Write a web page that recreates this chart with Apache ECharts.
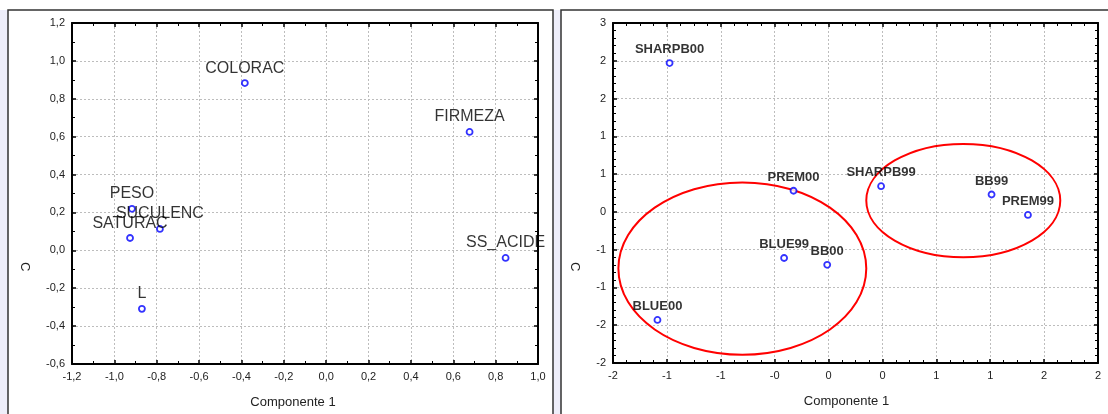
<!DOCTYPE html>
<html>
<head>
<meta charset="utf-8">
<script src="https://cdn.jsdelivr.net/npm/echarts@6/dist/echarts.min.js"></script>
<style>
    html, body { margin: 0; padding: 0; background: #fff; }
    #chart { width: 1108px; height: 414px; }
</style>
</head>
<body>
<div id="chart"></div>
<script>
// ======================
// DATA
// ======================

// 좌측: 변수 (Componente 1 / 2 loadings)
const leftNames = ['COLORAC', 'FIRMEZA', 'PESO', 'SUCULENC', 'SATURAC', 'L', 'SS_ACIDE'];
const leftX = [-0.384, 0.677, -0.917, -0.785, -0.926, -0.870, 0.847];
const leftY = [0.883, 0.625, 0.219, 0.113, 0.065, -0.309, -0.040];

// 우측: 샘플 scores
const rightNames = ['SHARPB00', 'PREM00', 'BLUE99', 'BB00', 'BLUE00', 'SHARPB99', 'BB99', 'PREM99'];
const rightX = [-1.18, -0.26, -0.33, -0.01, -1.27, 0.39, 1.21, 1.48];
const rightY = [1.97, 0.28, -0.61, -0.70, -1.43, 0.34, 0.23, -0.04];

// 그룹 타원 (center x, center y, radius x, radius y)
const ellipseCx = [-0.64, 1.00];
const ellipseCy = [-0.75, 0.15];
const ellipseRx = [0.92, 0.72];
const ellipseRy = [1.14, 0.75];

// 축 범위 [min, max, interval]
const leftXRange = [-1.2, 1.0, 0.2];
const leftYRange = [-0.6, 1.2, 0.2];
const rightXRange = [-1.6, 2.0, 0.4];
const rightYRange = [-2, 2.5, 0.5];

const xTitle = 'Componente 1';
const yTitle = 'C';

// ======================
// HELPERS
// ======================

const FONT = 'Liberation Sans, Arial, sans-serif';

const commaFmt = v => v.toFixed(1).replace('.', ',');
const roundFmt = v => (v < 0 ? '-' : '') + Math.round(Math.abs(v));

function makeAxis(range, gridIndex, position, showLabel, fmt, split) {
    return {
        type: 'value',
        gridIndex: gridIndex,
        position: position,
        min: range[0],
        max: range[1],
        interval: range[2],
        axisLine: { show: true, onZero: false, lineStyle: { color: '#000', width: 2 } },
        axisTick: { show: true, inside: true, length: 4, lineStyle: { color: '#000', width: 1.5 } },
        minorTick: { show: true, splitNumber: split, length: 3, lineStyle: { color: '#000', width: 1 } },
        axisLabel: {
            show: showLabel,
            formatter: fmt,
            color: '#222',
            fontSize: 11,
            fontFamily: FONT,
            margin: 7
        },
        splitLine: {
            show: showLabel,
            lineStyle: { color: '#bdbdbd', type: [2, 2], width: 1 }
        }
    };
}

function pointSeries(names, xs, ys, idx, labelStyle) {
    return {
        type: 'scatter',
        xAxisIndex: idx,
        yAxisIndex: idx,
        symbol: 'circle',
        symbolSize: 6,
        itemStyle: { color: '#fff', borderColor: '#0000ff', borderWidth: 1.8 },
        label: Object.assign({
            show: true,
            position: 'top',
            distance: 3,
            formatter: p => names[p.dataIndex],
            color: '#000',
            fontFamily: FONT
        }, labelStyle),
        data: xs.map((x, i) => [x, ys[i]])
    };
}

// ======================
// CHART
// ======================

const chart = echarts.init(document.getElementById('chart'), null, { renderer: 'canvas' });

const option = {
    animation: false,
    backgroundColor: '#fff',
    graphic: [
        { type: 'rect', z: -10, shape: { x: 0, y: 10, width: 1108, height: 404 }, style: { fill: '#eeeefa' } },
        { type: 'rect', z: -9, shape: { x: 8, y: 10, width: 545, height: 420 }, style: { fill: '#fff', stroke: '#333', lineWidth: 1.5 } },
        { type: 'rect', z: -9, shape: { x: 561, y: 10, width: 560, height: 420 }, style: { fill: '#fff', stroke: '#333', lineWidth: 1.5 } },
        { type: 'text', x: 31, y: 262, rotation: -Math.PI / 2, style: { text: yTitle, fontSize: 13, fontFamily: FONT, fill: '#222' } },
        { type: 'text', x: 581, y: 262, rotation: -Math.PI / 2, style: { text: yTitle, fontSize: 13, fontFamily: FONT, fill: '#222' } }
    ],
    grid: [
        { left: 72, right: 570, top: 23, bottom: 50 },
        { left: 613, right: 10, top: 23, bottom: 51 }
    ],
    xAxis: [
        Object.assign(makeAxis(leftXRange, 0, 'bottom', true, commaFmt, 2), {
            name: xTitle, nameLocation: 'middle', nameGap: 32,
            nameTextStyle: { fontSize: 13, fontFamily: FONT, color: '#222', padding: [0, 24, 0, 0] }
        }),
        Object.assign(makeAxis(rightXRange, 1, 'bottom', true, roundFmt, 4), {
            name: xTitle, nameLocation: 'middle', nameGap: 32,
            nameTextStyle: { fontSize: 13, fontFamily: FONT, color: '#222', padding: [0, 18, 0, 0] }
        }),
        makeAxis(leftXRange, 0, 'top', false, commaFmt, 2),
        makeAxis(rightXRange, 1, 'top', false, roundFmt, 4)
    ],
    yAxis: [
        makeAxis(leftYRange, 0, 'left', true, commaFmt, 2),
        makeAxis(rightYRange, 1, 'left', true, roundFmt, 5),
        makeAxis(leftYRange, 0, 'right', false, commaFmt, 2),
        makeAxis(rightYRange, 1, 'right', false, roundFmt, 5)
    ],
    series: [
        pointSeries(leftNames, leftX, leftY, 0, { fontSize: 16 }),
        pointSeries(rightNames, rightX, rightY, 1, { fontSize: 13, fontWeight: 'bold' }),
        {
            type: 'custom',
            xAxisIndex: 1,
            yAxisIndex: 1,
            silent: true,
            z: 1,
            data: ellipseCx.map((cx, i) => [cx, ellipseCy[i], ellipseRx[i], ellipseRy[i]]),
            encode: { x: 0, y: 1 },
            renderItem: function (params, api) {
                const c = api.coord([api.value(0), api.value(1)]);
                const s = api.size([api.value(2), api.value(3)]);
                return {
                    type: 'ellipse',
                    shape: { cx: c[0], cy: c[1], rx: s[0], ry: s[1] },
                    style: { fill: 'none', stroke: '#ff0000', lineWidth: 2 }
                };
            }
        }
    ]
};

chart.setOption(option);
</script>
</body>
</html>
